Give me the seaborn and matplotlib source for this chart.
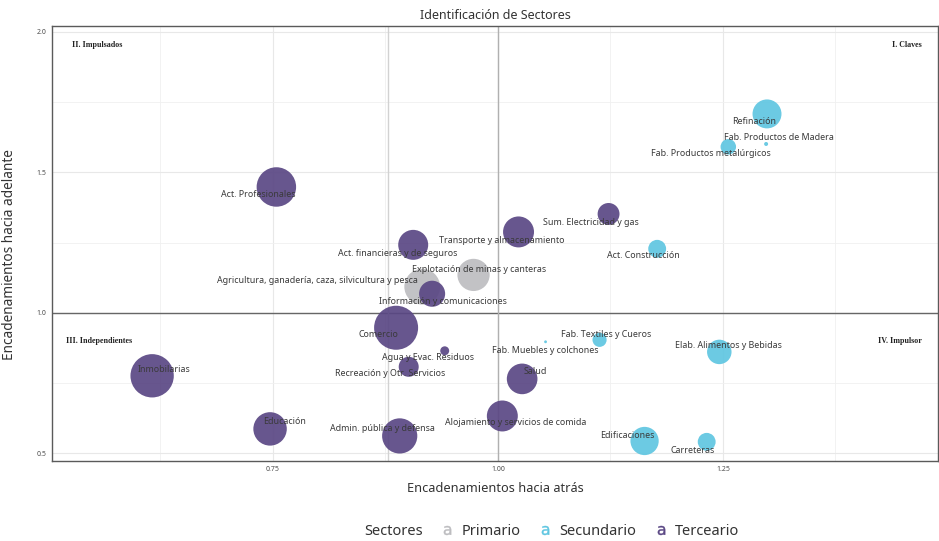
import pandas as pd
import numpy as np
import matplotlib.pyplot as plt
import seaborn as sns
from matplotlib.lines import Line2D

# datos de los sectores
sectores = ['Agricultura, ganadería, caza, silvicultura y pesca', 'Explotación de minas y canteras',
            'Refinación', 'Fab. Productos de Madera', 'Fab. Productos metalúrgicos', 'Act. Construcción',
            'Fab. Textiles y Cueros', 'Fab. Muebles y colchones', 'Elab. Alimentos y Bebidas',
            'Edificaciones', 'Carreteras',
            'Act. Profesionales', 'Act. financieras y de seguros', 'Transporte y almacenamiento',
            'Sum. Electricidad y gas', 'Información y comunicaciones', 'Comercio', 'Agua y Evac. Residuos',
            'Recreación y Otr. Servicios', 'Inmobilarias', 'Educación', 'Admin. pública y defensa',
            'Salud', 'Alojamiento y servicios de comida']
tipo = ['Primario'] * 2 + ['Secundario'] * 9 + ['Terceario'] * 13
atras = [0.916, 0.973,
         1.299, 1.298, 1.256, 1.177, 1.113, 1.053, 1.246, 1.163, 1.232,
         0.754, 0.906, 1.023, 1.123, 0.927, 0.887, 0.941, 0.901, 0.616, 0.747, 0.891, 1.027, 1.005]
adelante = [1.093, 1.135,
            1.708, 1.601, 1.591, 1.228, 0.904, 0.897, 0.861, 0.544, 0.541,
            1.448, 1.242, 1.288, 1.352, 1.068, 0.947, 0.865, 0.808, 0.776, 0.587, 0.562, 0.765, 0.633]
peso = [3.2, 2.6,
        2.1, 0.04, 0.6, 0.8, 0.5, 0.02, 1.5, 2.0, 0.8,
        3.9, 2.25, 2.4, 1.2, 1.7, 4.85, 0.2, 1.0, 4.7, 2.8, 3.1, 2.35, 2.4]

colores = {'Primario': '#bdbdc0', 'Secundario': '#5fc6e1', 'Terceario': '#5a4784'}

# desplazamiento de etiquetas (px)
desp = [(-105, -6), (6, -5),
        (-13, 8), (13, -6), (-17, 7), (-14, 7), (7, -5), (0, 9), (9, -6), (-17, -5), (-14, 9),
        (-18, 8), (-16, 9), (-17, 9), (-18, 9), (11, 8), (-18, 7), (-17, 7), (-19, 7),
        (12, -6), (14, -7), (-17, -7), (13, -7), (13, 7)]

df = pd.DataFrame({'sector': sectores, 'tipo': tipo, 'x': atras, 'y': adelante, 'peso': peso})

sns.set_style('whitegrid')
plt.rcParams['font.family'] = ['Noto Sans', 'DejaVu Sans']

fig = plt.figure(figsize=(9.39, 5.41), dpi=100)
ax = fig.add_axes([0.0554, 0.148, 0.9436, 0.804])

ax.set_xlim(0.5048, 1.489)
ax.set_ylim(0.473, 2.021)
ax.set_xticks([0.75, 1.0, 1.25])
ax.set_xticklabels(['0.75', '1.00', '1.25'])
ax.set_yticks([0.5, 1.0, 1.5, 2.0])
ax.set_yticklabels(['0.5', '1.0', '1.5', '2.0'])
ax.set_xticks([0.625, 0.875, 1.125, 1.375], minor=True)
ax.set_yticks([0.75, 1.25, 1.75], minor=True)
ax.grid(which='major', color='#e8e8e8', lw=0.8)
ax.grid(which='minor', color='#f0f0f0', lw=0.6)
ax.tick_params(axis='both', which='major', labelsize=5, colors='#4d4d4d', length=2, width=0.6, pad=2)
ax.tick_params(which='minor', length=0)
for s in ax.spines.values():
    s.set_color('#5a5a5a')
    s.set_linewidth(1.0)

ax.axhline(1.0, color='#666666', lw=1.0, zorder=1)
ax.axvline(1.0, color='#b0b0b0', lw=1.0, zorder=1)
ax.axvline(0.878, color='#d2d2d2', lw=1.0, zorder=1)

sns.scatterplot(data=df, x='x', y='y', hue='tipo', size='peso', palette=colores,
                sizes=(0, 5 * 207), size_norm=(0, 5), alpha=0.92, edgecolor='none',
                legend=False, ax=ax, zorder=3)

for i, row in df.iterrows():
    dx, dy = desp[i]
    ax.annotate(row['sector'], (row['x'], row['y']), xytext=(dx * 0.72, -dy * 0.72),
                textcoords='offset points', ha='center', va='center', fontsize=6.4,
                color='#3a3a3a', zorder=5)

cuad = dict(fontsize=5.8, fontweight='bold', family='Liberation Serif', color='#222222', va='center')
ax.text(0.022, 0.957, 'II. Impulsados', transform=ax.transAxes, ha='left', **cuad)
ax.text(0.982, 0.957, 'I. Claves', transform=ax.transAxes, ha='right', **cuad)
ax.text(0.016, 0.276, 'III. Independientes', transform=ax.transAxes, ha='left', **cuad)
ax.text(0.982, 0.276, 'IV. Impulsor', transform=ax.transAxes, ha='right', **cuad)

ax.set_title('Identificación de Sectores', fontsize=9, color='#333333', pad=5)
ax.set_xlabel('Encadenamientos hacia atrás', fontsize=9.2, color='#333333', labelpad=6)
ax.set_ylabel('Encadenamientos hacia adelante', fontsize=9.8, color='#333333')
ax.yaxis.set_label_coords(-0.039, 0.475)

handles = [Line2D([], [], linestyle='none')]
for t in ['Primario', 'Secundario', 'Terceario']:
    handles.append(Line2D([], [], linestyle='none', marker=r'$\mathsf{a}$', markersize=6.5,
                          markeredgewidth=0.3, color=colores[t]))
fig.legend(handles, ['Sectores', 'Primario', 'Secundario', 'Terceario'], loc='center',
           bbox_to_anchor=(0.577, 0.018), ncol=4, frameon=False, fontsize=10.5,
           handlelength=0.8, handletextpad=0.6, columnspacing=1.25, labelcolor='#333333')

plt.savefig('out.png', dpi=100)
